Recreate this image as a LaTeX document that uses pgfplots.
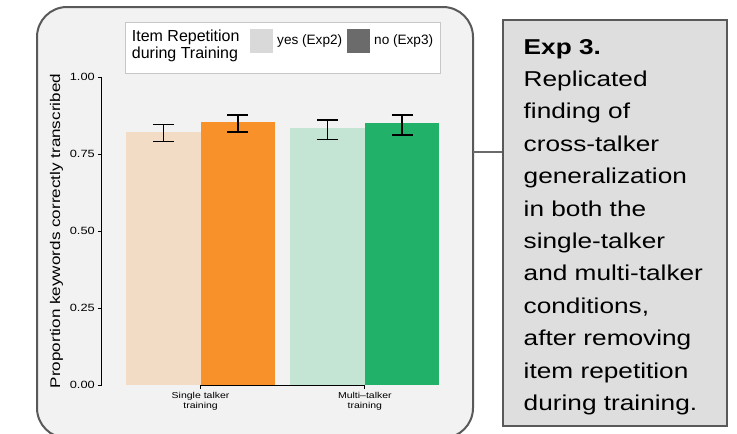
\documentclass[border=0pt]{standalone}
\usepackage{fontspec}
\setmainfont{Liberation Sans}
\newfontfamily\wide[FakeStretch=1.22]{Liberation Sans}
\usepackage{pgfplots}
\pgfplotsset{compat=1.18}
\definecolor{panelbg}{HTML}{F2F2F2}
\definecolor{peach}{HTML}{F3DCC6}
\definecolor{orng}{HTML}{F89129}
\definecolor{lgreen}{HTML}{C4E4D4}
\definecolor{grn}{HTML}{22B169}
\definecolor{boxbg}{HTML}{DEDEDE}
\definecolor{frame}{HTML}{595959}
\pgfplotsset{errbar/.style={ybar, bar width=74.5pt, bar shift=0pt, draw=none,
  /pgfplots/error bars/y dir=both, /pgfplots/error bars/y explicit,
  /pgfplots/error bars/error bar style={draw=black, solid, opacity=1, line width=1.5pt},
  /pgfplots/error bars/error mark options={draw=black, solid, opacity=1, rotate=90, mark size=10.5pt, line width=1.5pt}}}
\begin{document}
\begin{tikzpicture}
\path[use as bounding box] (0,0) rectangle (737pt,-434pt);
\draw[frame, line width=2pt, fill=panelbg, rounded corners=30pt] (37pt,-7pt) rectangle (473pt,-438pt);
\draw[frame!90, line width=1.2pt] (473pt,-152pt) -- (503pt,-152pt);
\draw[frame, line width=1.6pt, fill=boxbg] (503pt,-20pt) rectangle (727pt,-426pt);
% legend
\draw[draw=black!22, fill=white, line width=1pt] (125pt,-22pt) rectangle (440pt,-73pt);
\node[anchor=base west, inner sep=0pt, font=\fontsize{16}{19}\selectfont] at (131.7pt,-41pt) {Item Repetition};
\node[anchor=base west, inner sep=0pt, font=\fontsize{16}{19}\selectfont] at (131.7pt,-58.5pt) {during Training};
\fill[black!15] (250pt,-29pt) rectangle (273pt,-53pt);
\node[anchor=base west, inner sep=0pt, font=\fontsize{13.6}{16}\selectfont] at (277pt,-44.5pt) {yes (Exp2)};
\fill[black!58] (347pt,-29pt) rectangle (370pt,-53pt);
\node[anchor=base west, inner sep=0pt, font=\fontsize{13.6}{16}\selectfont] at (374pt,-44.5pt) {no (Exp3)};
% box text
\node[anchor=base west, inner sep=0pt, font=\wide\bfseries\fontsize{21.5}{26}\selectfont] at (523.5pt,-54pt) {Exp 3.};
\foreach \t [count=\i] in {Replicated, finding of, cross-talker, generalization, in both the, single-talker, and multi-talker, {conditions,}, after removing, item repetition, during training.}{
  \node[anchor=base west, inner sep=0pt, font=\wide\fontsize{21.5}{26}\selectfont] at (523.5pt,{-54pt-\i*32.4pt}) {\t};
}
\begin{axis}[
  scale only axis, width=345pt, height=308pt,
  at={(102pt,-385pt)}, anchor=south west,
  xmin=-0.6, xmax=1.5, ymin=0, ymax=1,
  axis y line*=left, axis x line*=bottom,
  x axis line style={draw=none},
  y axis line style={line width=1pt, black},
  tick align=outside, major tick length=4pt,
  tick style={black, line width=1pt},
  xtick={0,1}, xticklabels={Single talker\\training, Multi–talker\\training},
  xticklabel style={align=center, font=\wide\fontsize{8.6}{10.5}\selectfont, inner sep=0pt, yshift=-3pt},
  ytick={0,0.25,0.5,0.75,1},
  yticklabels={0.00,0.25,0.50,0.75,1.00},
  yticklabel style={font=\wide\fontsize{10.5}{12}\selectfont, inner sep=0pt, xshift=-3pt},
  ylabel={Proportion keywords correctly transcribed},
  ylabel style={font=\wide\fontsize{14}{16}\selectfont, at={(axis description cs:-0.1217,0.5)}, anchor=base},
  clip=false,
]
\addplot[fill=peach, errbar] coordinates {(-0.2267,0.8214) += (0,0.025) -= (0,0.0314)};
\addplot[fill=orng, errbar] coordinates {(0.2267,0.853) += (0,0.0236) -= (0,0.0316)};
\addplot[fill=lgreen, errbar] coordinates {(0.7733,0.8344) += (0,0.026) -= (0,0.0367)};
\addplot[fill=grn, errbar] coordinates {(1.2267,0.8497) += (0,0.0269) -= (0,0.038)};
\draw[black, line width=1pt] (axis cs:0,0) -- (axis cs:1,0);
\end{axis}
\end{tikzpicture}
\end{document}
